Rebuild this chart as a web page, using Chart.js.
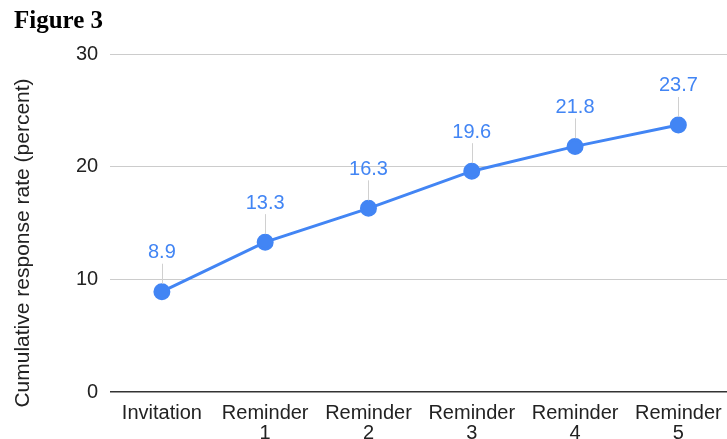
<!DOCTYPE html>
<html>
<head>
<meta charset="utf-8">
<script src="https://cdn.jsdelivr.net/npm/chart.js@4/dist/chart.umd.min.js"></script>
<style>
    html, body { margin: 0; padding: 0; overflow: hidden; background: #fff; }
    #title {
        position: absolute; left: 14px; top: 6px;
        font-family: "Liberation Serif", "Times New Roman", serif;
        font-weight: bold; font-size: 25px; color: #000;
    }
    #wrap { position: absolute; left: 0; top: 0; width: 740px; height: 446px; }
</style>
</head>
<body>
<div id="wrap"><canvas id="myChart"></canvas></div>
<div id="title">Figure 3</div>
<script>
    'use strict';

    var categories = ['Invitation', ['Reminder', '1'], ['Reminder', '2'], ['Reminder', '3'], ['Reminder', '4'], ['Reminder', '5']];
    var responseRate = [8.9, 13.3, 16.3, 19.6, 21.8, 23.7];
    var yTicks = [0, 10, 20, 30];
    var yTitle = 'Cumulative response rate (percent)';

    var blue = '#4285F4';

    // value labels with a thin leader line, drawn above each point
    var valueLabels = {
        id: 'valueLabels',
        afterDatasetsDraw: function (chart) {
            var ctx = chart.ctx;
            var meta = chart.getDatasetMeta(0);
            ctx.save();
            meta.data.forEach(function (pt, i) {
                ctx.strokeStyle = '#d0d0d0';
                ctx.lineWidth = 1;
                ctx.beginPath();
                ctx.moveTo(Math.round(pt.x) + 0.5, pt.y - 28);
                ctx.lineTo(Math.round(pt.x) + 0.5, pt.y - 8);
                ctx.stroke();
                ctx.fillStyle = blue;
                ctx.font = '20px "Liberation Sans", Arial, sans-serif';
                ctx.textAlign = 'center';
                ctx.textBaseline = 'middle';
                ctx.fillText(responseRate[i].toFixed(1), pt.x, pt.y - 39);
            });
            ctx.restore();
        }
    };

    // y axis title, placed like the original (a bit below the axis centre)
    var axisTitle = {
        id: 'axisTitle',
        afterDraw: function (chart) {
            var ctx = chart.ctx;
            ctx.save();
            ctx.translate(23, 243);
            ctx.rotate(-Math.PI / 2);
            ctx.fillStyle = '#222';
            ctx.font = '21px "Liberation Sans", Arial, sans-serif';
            ctx.textAlign = 'center';
            ctx.textBaseline = 'middle';
            ctx.fillText(yTitle, 0, 0);
            ctx.restore();
        }
    };

    new Chart(document.getElementById('myChart'), {
        type: 'line',
        data: {
            labels: categories,
            datasets: [{
                data: responseRate,
                borderColor: blue,
                backgroundColor: blue,
                borderWidth: 3,
                pointRadius: 7,
                pointBackgroundColor: blue,
                pointBorderColor: blue,
                tension: 0
            }]
        },
        options: {
            responsive: true,
            maintainAspectRatio: false,
            animation: false,
            layout: { padding: { left: 64, top: 54, right: 8, bottom: 0 } },
            plugins: {
                legend: { display: false },
                tooltip: { enabled: false }
            },
            scales: {
                x: {
                    offset: true,
                    grid: { display: false },
                    border: { display: false },
                    ticks: {
                        color: '#222',
                        padding: 3,
                        maxRotation: 0,
                        autoSkip: false,
                        font: { family: '"Liberation Sans", Arial, sans-serif', size: 20, lineHeight: 1.0 }
                    }
                },
                y: {
                    min: 0,
                    max: 30,
                    afterBuildTicks: function (axis) {
                        axis.ticks = yTicks.map(function (v) { return { value: v }; });
                    },
                    border: { display: false },
                    grid: {
                        drawTicks: false,
                        color: function (c) { return c.tick && c.tick.value === 0 ? '#333' : '#cccccc'; },
                        lineWidth: function (c) { return c.tick && c.tick.value === 0 ? 1.5 : 1; }
                    },
                    ticks: {
                        color: '#222',
                        padding: 12,
                        font: { family: '"Liberation Sans", Arial, sans-serif', size: 20 }
                    }
                }
            }
        },
        plugins: [valueLabels, axisTitle]
    });
</script>
</body>
</html>
